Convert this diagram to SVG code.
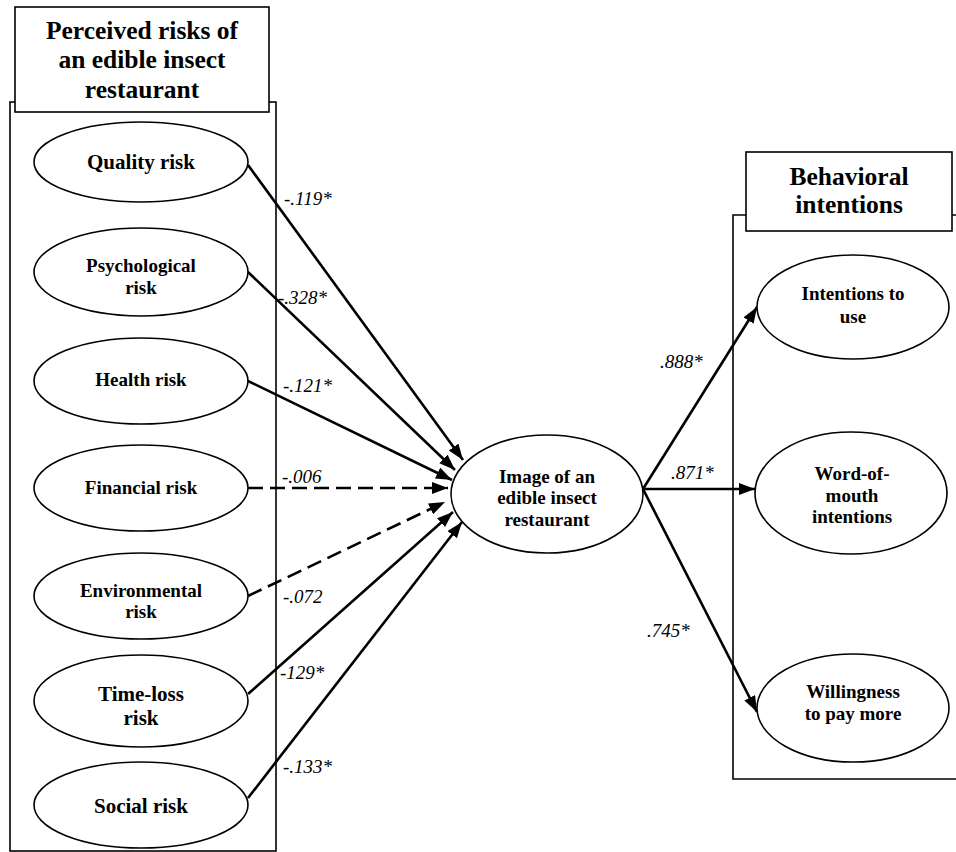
<svg xmlns="http://www.w3.org/2000/svg" width="956" height="852" viewBox="0 0 956 852" font-family="'Liberation Serif', serif">
<defs>
<style>
.frame{fill:none;stroke:#000;stroke-width:1.6}
.tbox{fill:#fff;stroke:#000;stroke-width:1.6}
.node{fill:#fff;stroke:#000;stroke-width:1.6}
.t{font-weight:bold;font-size:19px;text-anchor:middle;fill:#000}
.tb{font-size:21px}
.title{font-weight:bold;font-size:25.5px;text-anchor:middle;fill:#000}
.lab{font-style:italic;font-size:19px;fill:#000}
.c{fill:none;stroke:#000;stroke-width:2.6;marker-end:url(#ah)}
.d{stroke-dasharray:15,7}
</style>
<marker id="ah" markerUnits="userSpaceOnUse" markerWidth="18" markerHeight="14" refX="16" refY="6" orient="auto">
<path d="M0,0 L16,6 L0,12 z" fill="#000"/>
</marker>
</defs>
<rect width="956" height="852" fill="#fff"/>

<g id="left-group">
<rect class="frame" x="10" y="102" width="266" height="749"/>
<rect class="tbox" x="15" y="7" width="254" height="105"/>
<text class="title" x="142" y="39">Perceived risks of</text>
<text class="title" x="142" y="68">an edible insect</text>
<text class="title" x="142" y="98">restaurant</text>
</g>

<g id="right-group">
<polyline class="frame" points="960,215 733,215 733,779 960,779"/>
<rect class="tbox" x="746" y="152" width="206" height="79"/>
<text class="title" x="849" y="185">Behavioral</text>
<text class="title" x="849" y="213">intentions</text>
</g>

<g id="connectors">
<line class="c" x1="248" y1="165" x2="463" y2="460"/>
<line class="c" x1="248" y1="272" x2="455" y2="470"/>
<line class="c" x1="248" y1="381" x2="452" y2="480"/>
<line class="c d" x1="248" y1="488" x2="448" y2="488"/>
<line class="c d" x1="248" y1="596" x2="445" y2="502"/>
<line class="c" x1="248" y1="694" x2="453" y2="512"/>
<line class="c" x1="248" y1="798" x2="462" y2="522"/>
<line class="c" x1="643" y1="489" x2="757" y2="307"/>
<line class="c" x1="643" y1="489" x2="755" y2="489"/>
<line class="c" x1="643" y1="489" x2="757" y2="712"/>
<text class="lab" x="284" y="205">-.119*</text>
<text class="lab" x="278" y="304">-.328*</text>
<text class="lab" x="283" y="392">-.121*</text>
<text class="lab" x="282" y="483">-.006</text>
<text class="lab" x="283" y="603">-.072</text>
<text class="lab" x="280" y="679">-129*</text>
<text class="lab" x="283" y="773">-.133*</text>
<text class="lab" x="660" y="368">.888*</text>
<text class="lab" x="671" y="479">.871*</text>
<text class="lab" x="647" y="637">.745*</text>
</g>

<g id="quality-risk">
<ellipse class="node" cx="141" cy="162" rx="107" ry="40"/>
<text class="t tb" x="141" y="169">Quality risk</text>
</g>
<g id="psychological-risk">
<ellipse class="node" cx="141" cy="272" rx="107" ry="44"/>
<text class="t" x="141" y="272">Psychological</text>
<text class="t" x="141" y="294">risk</text>
</g>
<g id="health-risk">
<ellipse class="node" cx="141" cy="381" rx="107" ry="43"/>
<text class="t" x="141" y="386">Health risk</text>
</g>
<g id="financial-risk">
<ellipse class="node" cx="141" cy="488" rx="107" ry="43"/>
<text class="t" x="141" y="494">Financial risk</text>
</g>
<g id="environmental-risk">
<ellipse class="node" cx="141" cy="596" rx="107" ry="43"/>
<text class="t" x="141" y="597">Environmental</text>
<text class="t" x="141" y="618">risk</text>
</g>
<g id="time-loss-risk">
<ellipse class="node" cx="141" cy="701" rx="107" ry="46"/>
<text class="t tb" x="141" y="701">Time-loss</text>
<text class="t tb" x="141" y="725">risk</text>
</g>
<g id="social-risk">
<ellipse class="node" cx="141" cy="805" rx="107" ry="43"/>
<text class="t tb" x="141" y="813">Social risk</text>
</g>

<g id="image">
<ellipse class="node" cx="547" cy="494" rx="96" ry="59"/>
<text class="t" x="547" y="483">Image of an</text>
<text class="t" x="547" y="504">edible insect</text>
<text class="t" x="547" y="526">restaurant</text>
</g>

<g id="intentions-to-use">
<ellipse class="node" cx="853" cy="307" rx="96" ry="52"/>
<text class="t" x="853" y="300">Intentions to</text>
<text class="t" x="853" y="323">use</text>
</g>
<g id="word-of-mouth">
<ellipse class="node" cx="851" cy="493" rx="96" ry="61"/>
<text class="t" x="852" y="480">Word-of-</text>
<text class="t" x="852" y="502">mouth</text>
<text class="t" x="852" y="523">intentions</text>
</g>
<g id="willingness">
<ellipse class="node" cx="853" cy="708" rx="96" ry="54"/>
<text class="t" x="853" y="698">Willingness</text>
<text class="t" x="853" y="720">to pay more</text>
</g>
</svg>
